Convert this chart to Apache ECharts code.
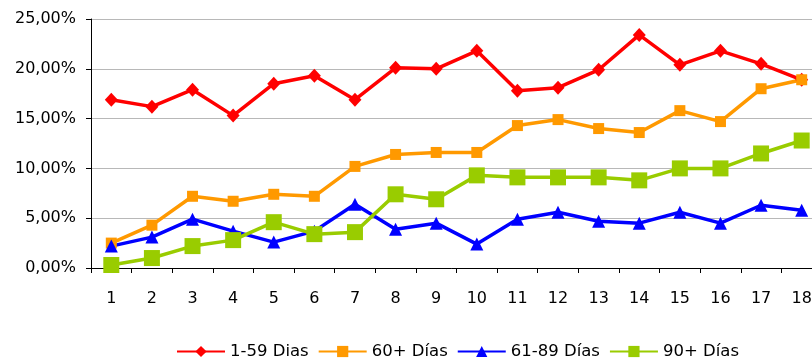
<!DOCTYPE html>
<html>
<head>
<meta charset="utf-8">
<script src="https://cdn.jsdelivr.net/npm/echarts@6/dist/echarts.min.js"></script>
<style>
  html, body { margin: 0; padding: 0; background: #fff; }
  #chart { width: 812px; height: 360px; }
</style>
</head>
<body>
<div id="chart"></div>
<script>
// Months 1..18
const categories = ['1','2','3','4','5','6','7','8','9','10','11','12','13','14','15','16','17','18'];

// Delinquency rates in percent
const dias1a59 = [16.9, 16.2, 17.9, 15.3, 18.5, 19.3, 16.9, 20.1, 20.0, 21.8, 17.8, 18.1, 19.9, 23.4, 20.4, 21.8, 20.5, 18.9];
const dias60mas = [2.5, 4.3, 7.2, 6.7, 7.4, 7.2, 10.2, 11.4, 11.6, 11.6, 14.3, 14.9, 14.0, 13.6, 15.8, 14.7, 18.0, 18.9];
const dias61a89 = [2.2, 3.1, 4.9, 3.7, 2.6, 3.7, 6.4, 3.9, 4.5, 2.4, 4.9, 5.6, 4.7, 4.5, 5.6, 4.5, 6.3, 5.8];
const dias90mas = [0.3, 1.0, 2.2, 2.8, 4.6, 3.4, 3.6, 7.4, 6.9, 9.3, 9.1, 9.1, 9.1, 8.8, 10.0, 10.0, 11.5, 12.8];

const seriesNames = ['1-59 Dias', '60+ Días', '61-89 Días', '90+ Días'];
const yTicks = [0, 5, 10, 15, 20, 25];

const FONT = 'DejaVu Sans';

const chart = echarts.init(document.getElementById('chart'), null, { renderer: 'canvas' });

function lineSeries(name, data, color, symbol, size) {
  return {
    name: name,
    type: 'line',
    data: data,
    symbol: symbol,
    symbolSize: size,
    showAllSymbol: true,
    lineStyle: { color: color, width: 3.5 },
    itemStyle: { color: color },
    emphasis: { disabled: true },
    animation: false
  };
}

chart.setOption({
  animation: false,
  // the plot runs slightly past the right edge of the canvas
  grid: { left: 91, top: 19, height: 249, width: 731, containLabel: false, outerBoundsMode: 'none' },
  legend: {
    left: 171,
    top: 338,
    itemWidth: 48,
    itemHeight: 14,
    itemGap: 9,
    textStyle: { fontFamily: FONT, fontSize: 16.5, color: '#000' },
    data: seriesNames
  },
  xAxis: {
    type: 'category',
    data: categories,
    boundaryGap: true,
    axisLine: { lineStyle: { color: '#000', width: 1 } },
    axisTick: { show: true, length: 5, lineStyle: { color: '#000' } },
    axisLabel: { fontFamily: FONT, fontSize: 16, color: '#000', margin: 23 }
  },
  yAxis: {
    type: 'value',
    min: yTicks[0],
    max: yTicks[yTicks.length - 1],
    interval: 5,
    axisLine: { show: true, lineStyle: { color: '#000', width: 1 } },
    axisTick: { show: true, length: 5, lineStyle: { color: '#000' } },
    splitLine: { lineStyle: { color: '#b8b8b8', width: 1 } },
    axisLabel: {
      fontFamily: FONT, fontSize: 16, color: '#000', margin: 15,
      formatter: v => v.toFixed(2).replace('.', ',') + '%'
    }
  },
  series: [
    lineSeries(seriesNames[0], dias1a59, '#ff0000', 'diamond', [13, 14]),
    lineSeries(seriesNames[1], dias60mas, '#ff9900', 'rect', 11),
    lineSeries(seriesNames[2], dias61a89, '#0000ff', 'triangle', 13),
    lineSeries(seriesNames[3], dias90mas, '#99cc00', 'rect', 16)
  ]
});
</script>
</body>
</html>
